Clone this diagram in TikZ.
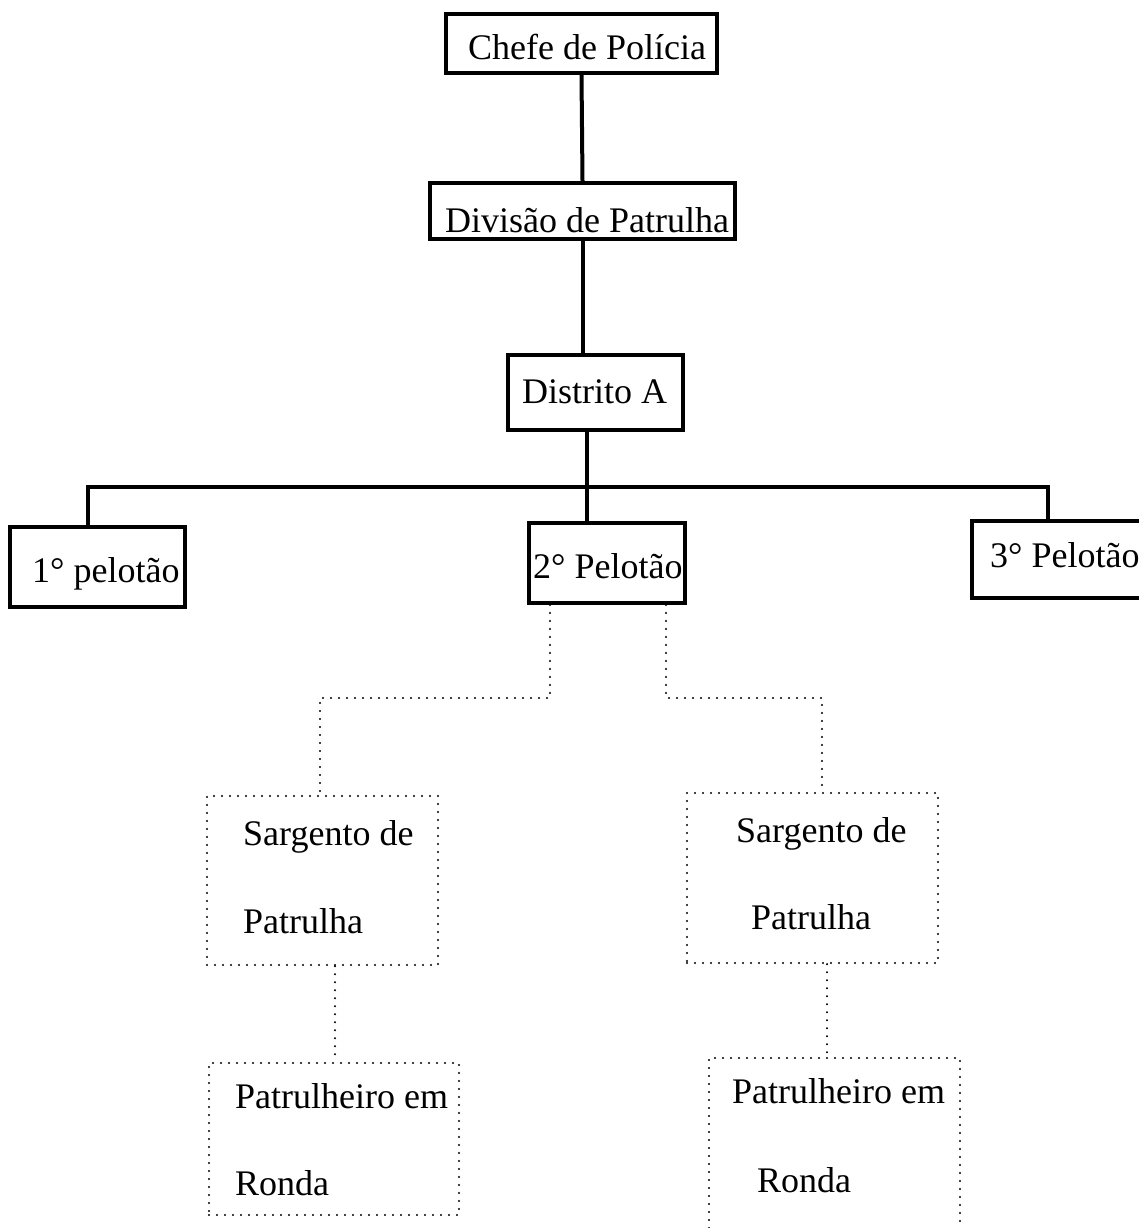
\documentclass[tikz,border=0pt]{standalone}
\usepackage{fontspec}
\setmainfont{Liberation Serif}
\begin{document}
\begin{tikzpicture}[x=1pt,y=-1pt,
  frame/.style={draw, line width=4pt, inner sep=0pt},
  dotframe/.style={draw, line width=2.4pt, line cap=round, dash pattern=on 0pt off 8pt, inner sep=0pt},
  txt/.style={anchor=base west, inner sep=0pt, font=\fontsize{36}{40}\selectfont},
  link/.style={line width=4pt},
  dotlink/.style={line width=2.4pt, line cap=round, dash pattern=on 0pt off 8pt},
]
\useasboundingbox (0,0) rectangle (1138,1228);

% solid boxes of the upper hierarchy
\node[frame, minimum width=271, minimum height=59] (chefe) at (581.5,43.5) {};
\node[frame, minimum width=305, minimum height=56] (divisao) at (582.5,211) {};
\node[frame, minimum width=175, minimum height=75] (distrito) at (595.5,392.5) {};
\node[frame, minimum width=175, minimum height=80] (p1) at (97.5,567) {};
\node[frame, minimum width=156, minimum height=80] (p2) at (607,563) {};
\node[frame, minimum width=188, minimum height=77] (p3) at (1066,559.5) {};

% dotted boxes below the 2nd platoon
\node[dotframe, minimum width=231, minimum height=169] (sarg1) at (322.5,880.5) {};
\node[dotframe, minimum width=251, minimum height=170] (sarg2) at (812.5,878) {};
\node[dotframe, minimum width=250, minimum height=152] (patr1) at (334,1139) {};
\node[dotframe, minimum width=251, minimum height=192] (patr2) at (834.5,1154) {};

% labels
\node[txt] (tchefe) at (468,60) {Chefe de Polícia};
\node[txt] (tdiv) at (445,232) {Divisão de Patrulha};
\node[txt] (tdist) at (522,403) {Distrito A};
\node[txt] (tp1) at (32,582) {1° pelotão};
\node[txt] (tp2) at (533,578) {2° Pelotão};
\node[txt] (tp3) at (990,567) {3° Pelotão};
\node[txt] (ts1a) at (243,845) {Sargento de};
\node[txt] (ts1b) at (243,933) {Patrulha};
\node[txt] (ts2a) at (736,842) {Sargento de};
\node[txt] (ts2b) at (751,929) {Patrulha};
\node[txt] (tr1a) at (235,1108) {Patrulheiro em};
\node[txt] (tr1b) at (235,1195) {Ronda};
\node[txt] (tr2a) at (732,1103) {Patrulheiro em};
\node[txt] (tr2b) at (757,1192) {Ronda};

% solid connectors
\coordinate (hub) at (587,487);
\coordinate (hl) at (88,487);
\coordinate (hr) at (1048,487);
\draw[link] (chefe.south) -- (divisao.north);
\draw[link] (divisao.south) -- (divisao.south |- distrito.north);
\draw[link] (hub |- distrito.south) -- (hub |- p2.north);
\draw[link] (hl |- p1.north) -- (hl) -- (hr) -- (hr |- p3.north);

% dotted connectors
\coordinate (dl) at (550,698);
\coordinate (dlx) at (320,698);
\coordinate (dr) at (666,698);
\coordinate (drx) at (822,698);
\coordinate (s1) at (335,0);
\coordinate (s2) at (827,0);
\draw[dotlink] (dl |- p2.south) -- (dl) -- (dlx) -- (dlx |- sarg1.north);
\draw[dotlink] (dr |- p2.south) -- (dr) -- (drx) -- (drx |- sarg2.north);
\draw[dotlink] (sarg1.south -| s1) -- (patr1.north -| s1);
\draw[dotlink] (sarg2.south -| s2) -- (patr2.north -| s2);
\end{tikzpicture}
\end{document}
